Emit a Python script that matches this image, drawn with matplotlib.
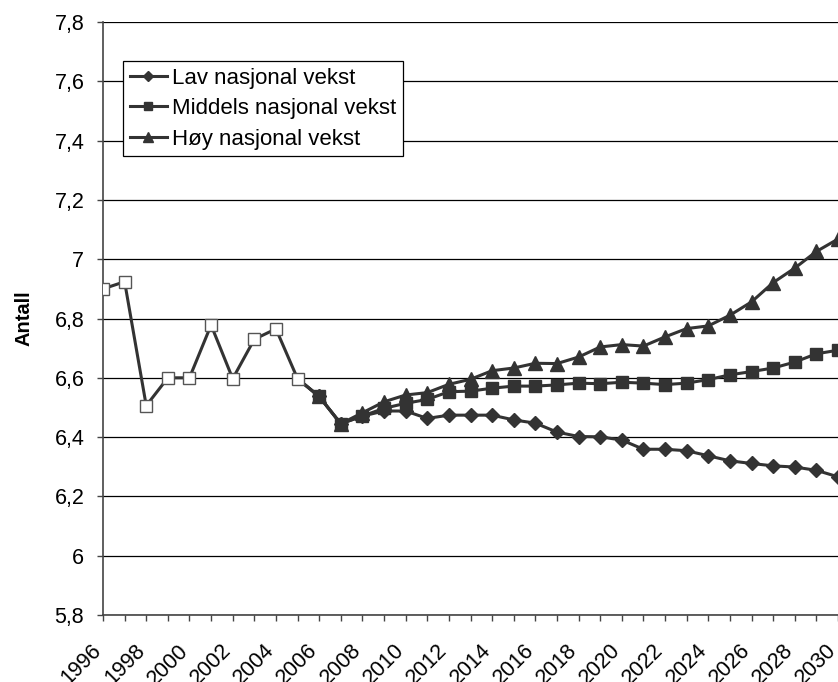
import numpy as np
import matplotlib
matplotlib.use('Agg')
import matplotlib.pyplot as plt
from matplotlib.ticker import FuncFormatter
from matplotlib.transforms import ScaledTranslation

plt.rcParams['font.family'] = ['Liberation Sans', 'DejaVu Sans']

#historical values, open squares
hist_years = list(range(1996, 2006))
hist_vals = [6.90, 6.924, 6.506, 6.60, 6.60, 6.778, 6.597, 6.73, 6.765, 6.597]

#projections, first point (2005) joins the history line
proj_years = list(range(2005, 2031))
lav = [6.597, 6.537, 6.445, 6.471, 6.488, 6.488, 6.463, 6.474, 6.474, 6.474, 6.458, 6.447, 6.417,
       6.402, 6.401, 6.390, 6.359, 6.359, 6.354, 6.337, 6.320, 6.311, 6.303, 6.299, 6.288, 6.266]
middels = [6.597, 6.537, 6.445, 6.471, 6.497, 6.514, 6.527, 6.553, 6.555, 6.565, 6.572, 6.572, 6.576,
           6.582, 6.580, 6.585, 6.582, 6.577, 6.582, 6.594, 6.610, 6.621, 6.633, 6.653, 6.681, 6.693]
hoy = [6.597, 6.537, 6.445, 6.482, 6.519, 6.542, 6.550, 6.578, 6.595, 6.624, 6.633, 6.649, 6.648,
       6.670, 6.704, 6.712, 6.707, 6.738, 6.766, 6.775, 6.811, 6.856, 6.921, 6.970, 7.026, 7.068]

labels = ['Lav nasjonal vekst', 'Middels nasjonal vekst', 'Høy nasjonal vekst']

col = '#333333'
lw = 2.2

fig = plt.figure(figsize=(8.38, 6.82), dpi=100)
ax = fig.add_axes([103/838, 1-615/682, 1-103/838, (615-22)/682])

l1, = ax.plot(proj_years, lav, color=col, lw=lw, marker='D', ms=7, markevery=slice(1, None), zorder=3, label=labels[0])
l3, = ax.plot(proj_years, hoy, color=col, lw=lw, marker='^', ms=9.5, markevery=slice(1, None), zorder=3, label=labels[2])
l2, = ax.plot(proj_years, middels, color=col, lw=lw, marker='s', ms=8.5, markevery=slice(1, None), zorder=4, label=labels[1])
ax.plot(hist_years, hist_vals, color=col, lw=lw, marker='s', ms=8, mfc='white', mec='#555555', mew=1.0, zorder=5)

ax.set_xlim(1996, 2030)
ax.set_ylim(5.8, 7.8)
ax.set_yticks(np.arange(5.8, 7.81, 0.2))
ax.yaxis.set_major_formatter(FuncFormatter(lambda v, p: ('%g' % round(v, 1)).replace('.', ',')))
ax.set_xticks(range(1996, 2031))
ax.set_xticklabels([str(y) if (y - 1996) % 2 == 0 else '' for y in range(1996, 2031)],
                   rotation=45, ha='right', va='top', rotation_mode='anchor')
ax.tick_params(axis='both', labelsize=15.5, direction='out', length=4.5, color='#444444', width=1)
ax.tick_params(axis='x', pad=13.5)
ax.tick_params(axis='y', pad=9)
#shift the slanted year labels a bit left of their ticks
for lab in ax.get_xticklabels():
    lab.set_transform(lab.get_transform() + ScaledTranslation(-12/100, 0, fig.dpi_scale_trans))

ax.grid(axis='y', color='black', lw=0.9)
ax.set_axisbelow(True)
for s in ['top', 'right']:
    ax.spines[s].set_visible(False)
ax.spines['left'].set_color('#444444')
ax.spines['bottom'].set_color('#444444')
ax.spines['left'].set_linewidth(1.2)
ax.spines['bottom'].set_linewidth(1.2)

ax.set_ylabel('Antall', fontsize=14.5, fontweight='bold')
ax.yaxis.set_label_coords(-0.094, 0.5)

leg = fig.legend(handles=[l1, l2, l3], loc='upper left', bbox_to_anchor=(123/838, 1-61/682),
                 fontsize=16, frameon=True, fancybox=False, edgecolor='black', framealpha=1,
                 markerscale=0.7, handlelength=1.67, handletextpad=0.25, labelspacing=0.43,
                 borderpad=0.3, borderaxespad=0)
leg.get_frame().set_linewidth(0.9)

fig.savefig('out.png', dpi=100)
